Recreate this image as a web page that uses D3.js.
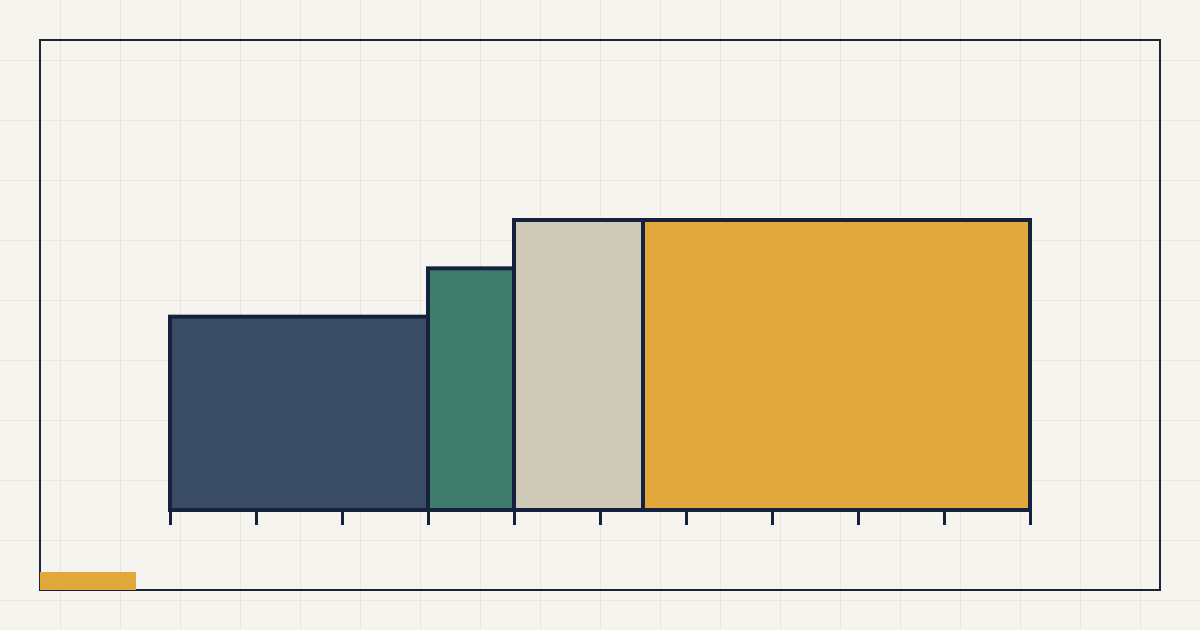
<!DOCTYPE html>
<html>
<head>
<meta charset="utf-8">
<script src="https://cdn.jsdelivr.net/npm/d3@7"></script>
<style>
  html, body { margin: 0; padding: 0; background: #f5f4ef; }
  svg { display: block; }
</style>
</head>
<body>
<svg id="chart" width="1200" height="630"></svg>
<script>
// Data
const categories = ["A", "B", "C", "D"];
const shares = [30, 10, 15, 45];       // widths (% of total)
const values = [40, 50, 60, 60];       // heights
const colors = ["#3a4b64", "#3e7c6c", "#d0cab8", "#e2a83c"];
const xTicks = [0, 10, 20, 30, 40, 50, 60, 70, 80, 90, 100];

const W = 1200, H = 630;
const svg = d3.select("#chart");

// background
svg.append("rect").attr("width", W).attr("height", H).attr("fill", "#f5f4ef");

// grid
const grid = svg.append("g").attr("stroke", "#ebe6dd").attr("stroke-width", 1);
d3.range(60, W, 60).forEach(x => {
  grid.append("line").attr("x1", x + 0.5).attr("x2", x + 0.5).attr("y1", 0).attr("y2", H);
});
d3.range(60, H, 60).forEach(y => {
  grid.append("line").attr("y1", y + 0.5).attr("y2", y + 0.5).attr("x1", 0).attr("x2", W);
});

// frame
svg.append("rect").attr("x", 40).attr("y", 40).attr("width", 1120).attr("height", 550)
  .attr("fill", "none").attr("stroke", "#1a2238").attr("stroke-width", 2);

// scales
const x = d3.scaleLinear().domain([0, 100]).range([170, 1030]);
const y = d3.scaleLinear().domain([0, 60]).range([510, 220]);

// cumulative positions
let acc = 0;
const data = categories.map((c, i) => {
  const d = { cat: c, x0: acc, x1: acc + shares[i], v: values[i], color: colors[i] };
  acc += shares[i];
  return d;
});

// axis ticks
const axis = d3.axisBottom(x).tickValues(xTicks).tickSize(15).tickFormat("");
const axG = svg.append("g").attr("transform", "translate(0,510)").call(axis);
axG.select(".domain").remove();
axG.selectAll(".tick line").attr("stroke", "#16213e").attr("stroke-width", 3);

// bars
svg.append("g").selectAll("rect").data(data).join("rect")
  .attr("x", d => x(d.x0))
  .attr("y", d => y(d.v))
  .attr("width", d => x(d.x1) - x(d.x0))
  .attr("height", d => y(0) - y(d.v))
  .attr("fill", d => d.color)
  .attr("stroke", "#16213e")
  .attr("stroke-width", 4);

// accent bar
svg.append("rect").attr("x", 40).attr("y", 572).attr("width", 96).attr("height", 18)
  .attr("fill", "#e2a83c");
</script>
</body>
</html>
